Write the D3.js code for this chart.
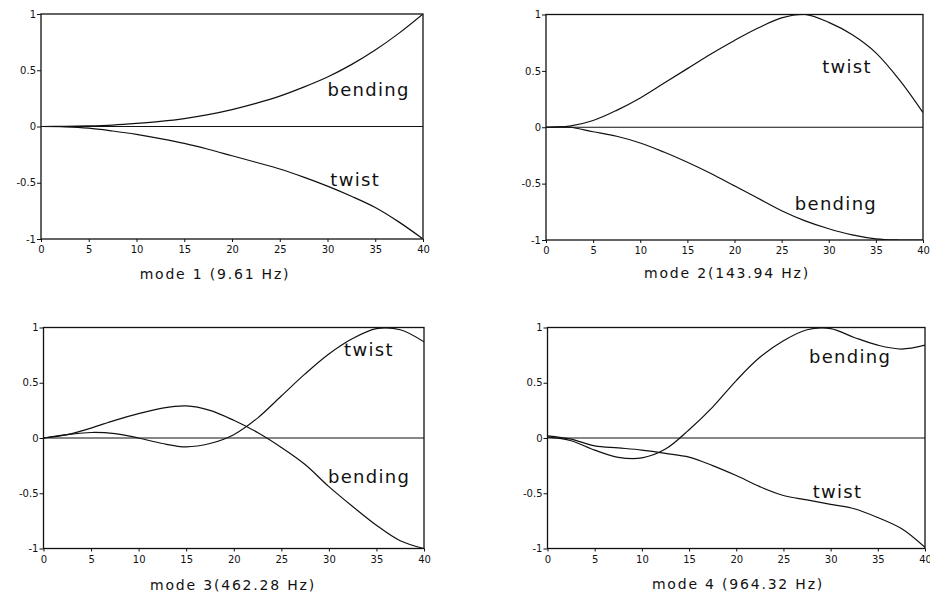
<!DOCTYPE html>
<html>
<head>
<meta charset="utf-8">
<script src="https://cdn.jsdelivr.net/npm/d3@7"></script>
<style>
  body { margin: 0; background: #fff; }
  text { font-family: "DejaVu Sans", sans-serif; fill: #111; }
</style>
</head>
<body>
<script>
// span positions along the beam
var xs = [0, 2.5, 5, 7.5, 10, 12.5, 15, 17.5, 20, 22.5, 25, 27.5, 30, 32.5, 35, 37.5, 40];

// mode shapes
var mode1Bending = [0, 0.001, 0.005, 0.013, 0.027, 0.045, 0.07, 0.105, 0.15, 0.205, 0.27, 0.35, 0.44, 0.55, 0.68, 0.83, 1.0];
var mode1Twist   = [0, -0.003, -0.015, -0.04, -0.07, -0.107, -0.15, -0.202, -0.26, -0.318, -0.378, -0.45, -0.53, -0.62, -0.72, -0.85, -1.0];
var mode2Twist   = [0, 0.01, 0.06, 0.15, 0.26, 0.39, 0.52, 0.65, 0.77, 0.88, 0.97, 1.0, 0.93, 0.82, 0.66, 0.42, 0.13];
var mode2Bending = [0, 0, -0.04, -0.08, -0.14, -0.22, -0.31, -0.41, -0.52, -0.63, -0.74, -0.83, -0.9, -0.955, -0.99, -1.0, -1.0];
var mode3Bending = [0, 0.03, 0.09, 0.16, 0.22, 0.27, 0.29, 0.25, 0.16, 0.05, -0.085, -0.24, -0.44, -0.62, -0.79, -0.93, -1.0];
var mode3Twist   = [0, 0.03, 0.05, 0.04, 0.0, -0.05, -0.08, -0.05, 0.03, 0.18, 0.38, 0.58, 0.76, 0.9, 0.99, 0.98, 0.87];
var mode4Bending = [0.01, -0.025, -0.11, -0.175, -0.18, -0.1, 0.075, 0.28, 0.52, 0.73, 0.88, 0.98, 0.99, 0.91, 0.84, 0.805, 0.84];
var mode4Twist   = [0.02, -0.01, -0.072, -0.09, -0.109, -0.139, -0.173, -0.25, -0.34, -0.44, -0.52, -0.56, -0.6, -0.64, -0.72, -0.82, -0.99];

var titles = ["mode 1 (9.61 Hz)", "mode 2(143.94 Hz)", "mode 3(462.28 Hz)", "mode 4 (964.32 Hz)"];
var xTicks = [0, 5, 10, 15, 20, 25, 30, 35, 40];
var yTicks = [-1, -0.5, 0, 0.5, 1];
var yTickLabels = ["-1", "-0.5", "0", "0.5", "1"];

// panel boxes (pixels) and where the curve names sit (data coords)
var panels = [
  { left: 41, top: 14, w: 382, h: 225, titleX: 215, titleY: 279,
    series: [mode1Bending, mode1Twist],
    labels: [{ t: "bending", x: 30, y: 0.272 }, { t: "twist", x: 30.3, y: -0.533 }] },
  { left: 546, top: 14.5, w: 377, h: 225.5, titleX: 727, titleY: 278,
    series: [mode2Twist, mode2Bending],
    labels: [{ t: "twist", x: 29.3, y: 0.485 }, { t: "bending", x: 26.4, y: -0.734 }] },
  { left: 43.5, top: 327.5, w: 380.5, h: 221, titleX: 233, titleY: 590,
    series: [mode3Bending, mode3Twist],
    labels: [{ t: "twist", x: 31.6, y: 0.743 }, { t: "bending", x: 29.9, y: -0.408 }] },
  { left: 547.5, top: 327.5, w: 377.5, h: 221, titleX: 738, titleY: 589,
    series: [mode4Bending, mode4Twist],
    labels: [{ t: "bending", x: 27.7, y: 0.683 }, { t: "twist", x: 28.1, y: -0.544 }] }
];

var svg = d3.select("body").append("svg")
    .attr("width", 930)
    .attr("height", 595);

panels.forEach(function (p, i) {
    var g = svg.append("g")
        .attr("transform", "translate(" + p.left + "," + p.top + ")");

    var x = d3.scaleLinear().domain([0, 40]).range([0, p.w]);
    var y = d3.scaleLinear().domain([-1, 1]).range([p.h, 0]);

    // keep the curves inside the frame
    g.append("clipPath").attr("id", "clip" + i)
        .append("rect").attr("width", p.w).attr("height", p.h);

    // frame
    g.append("rect")
        .attr("width", p.w).attr("height", p.h)
        .attr("fill", "none").attr("stroke", "#111").attr("stroke-width", 1.3);

    // zero line
    g.append("line")
        .attr("x1", 0).attr("x2", p.w)
        .attr("y1", y(0)).attr("y2", y(0))
        .attr("stroke", "#111").attr("stroke-width", 1.2);

    // axes
    var xa = g.append("g")
        .attr("transform", "translate(0," + p.h + ")")
        .call(d3.axisBottom(x).tickValues(xTicks).tickSize(3).tickPadding(4));
    var ya = g.append("g")
        .call(d3.axisLeft(y).tickValues(yTicks).tickSize(4).tickPadding(1)
            .tickFormat(function (d, k) { return yTickLabels[k]; }));
    [xa, ya].forEach(function (a) {
        a.select(".domain").remove();
        a.selectAll("line").attr("stroke", "#111");
        a.selectAll("text")
            .style("font-family", "DejaVu Sans, sans-serif")
            .style("font-size", "10px")
            .attr("fill", i % 2 ? "#333" : "#111");
    });

    // curves
    var line = d3.line()
        .x(function (d, k) { return x(xs[k]); })
        .y(function (d) { return y(d); })
        .curve(d3.curveCatmullRom.alpha(0.5));
    p.series.forEach(function (s) {
        g.append("path")
            .datum(s)
            .attr("d", line)
            .attr("clip-path", "url(#clip" + i + ")")
            .attr("fill", "none")
            .attr("stroke", "#111")
            .attr("stroke-width", 1.2);
    });

    // curve names
    p.labels.forEach(function (l) {
        g.append("text")
            .attr("x", x(l.x)).attr("y", y(l.y))
            .style("font-size", "18px")
            .style("letter-spacing", "1.3px")
            .text(l.t);
    });

    // title under the plot
    svg.append("text")
        .attr("x", p.titleX).attr("y", p.titleY)
        .attr("text-anchor", "middle")
        .style("font-size", "14px")
        .style("letter-spacing", "1.8px")
        .text(titles[i]);
});
</script>
</body>
</html>
